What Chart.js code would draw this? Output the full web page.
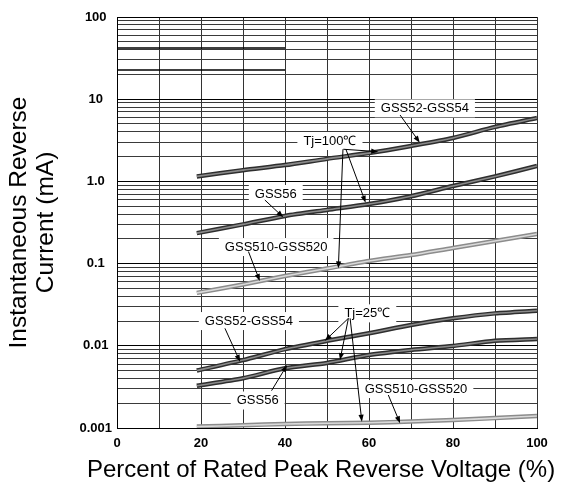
<!DOCTYPE html>
<html>
<head>
<meta charset="utf-8">
<script src="https://cdn.jsdelivr.net/npm/chart.js@4"></script>
<style>
  html, body { margin: 0; padding: 0; background: #fff; }
  canvas { display: block; }
</style>
</head>
<body>
<canvas id="chart" width="562" height="488"></canvas>
<script>
const FONT = '"Liberation Sans", Arial, sans-serif';

// percent of rated peak reverse voltage
const voltagePct = [19, 30, 40, 50, 60, 70, 80, 90, 100];

// Tj = 100 C  (mA)
const hotGss52to54 = [1.15, 1.37, 1.58, 1.88, 2.21, 2.7, 3.37, 4.6, 5.9];
const hotGss56 = [0.235, 0.30, 0.38, 0.45, 0.53, 0.66, 0.88, 1.15, 1.54];
const hotGss510to520 = [0.044, 0.0557, 0.0706, 0.087, 0.1076, 0.127, 0.155, 0.188, 0.229];

// Tj = 25 C  (mA)
const coldGss52to54 = [0.0050, 0.0067, 0.0091, 0.0115, 0.0142, 0.0179, 0.0216, 0.0248, 0.0267];
const coldGss56 = [0.00327, 0.00403, 0.00532, 0.00618, 0.00773, 0.0089, 0.00995, 0.0115, 0.0121];
const coldGss510to520 = [0.00104, 0.00108, 0.00112, 0.00114, 0.00116, 0.0012, 0.00125, 0.00132, 0.0014];

// two stray black rules in the top decade of the scanned sheet
const strayRulePct = [0, 40];
const strayRuleA = [42, 42];
const strayRuleB = [22.6, 22.6];

const yMajorValues = [0.001, 0.01, 0.1, 1, 10, 100];
const yMajorLabels = ["0.001", "0.01", "0.1", "1.0", "10", "100"];
const xTickLabels = ["0", "20", "40", "60", "80", "100"];
const xAxisTitle = "Percent of Rated Peak Reverse Voltage (%)";
const yAxisTitle = ["Instantaneous Reverse", "Current (mA)"];

// text notes: [text, x %, y mA]
const notes = [
  ["GSS52-GSS54", 73.3, 7.74],
  ["Tj=100\u2103", 50.7, 3.10],
  ["GSS56", 37.8, 0.703],
  ["GSS510-GSS520", 37.9, 0.159],
  ["GSS52-GSS54", 31.4, 0.0200],
  ["Tj=25\u2103", 59.6, 0.0248],
  ["GSS56", 33.5, 0.00216],
  ["GSS510-GSS520", 71.2, 0.00298],
];

// arrows: [from x, from y, to x, to y]
const arrows = [
  [67.4, 6.42, 72.1, 2.96],
  [53.9, 2.46, 62.2, 2.30],
  [54.5, 2.46, 59.2, 0.551],
  [53.8, 2.46, 52.7, 0.0877],
  [35.2, 0.594, 39.6, 0.366],
  [31.3, 0.140, 34.0, 0.0614],
  [25.7, 0.0163, 29.3, 0.00641],
  [55.1, 0.0216, 49.5, 0.01153],
  [55.1, 0.0216, 53.1, 0.00671],
  [55.5, 0.0216, 58.3, 0.001194],
  [36.8, 0.002844, 40.5, 0.00583],
  [64.6, 0.00252, 67.4, 0.00114],
];

const yGridValues = [];
yMajorValues.forEach((v, i) => {
  yGridValues.push(v);
  if (i < yMajorValues.length - 1) {
    for (let m = 2; m <= 9; m++) yGridValues.push(m * v);
  }
});

function points(xs, ys) {
  return ys.map((v, i) => ({ x: xs[i], y: v }));
}

// each curve is a dark outline with a lighter core
// (chart.js paints the last dataset first, so the core goes first)
function curve(ys, dark) {
  return [
    {
      data: points(voltagePct, ys),
      borderColor: dark ? "#8a8a8a" : "#dadada",
      borderWidth: 1.6,
      pointRadius: 0,
      tension: 0.25,
    },
    {
      data: points(voltagePct, ys),
      borderColor: dark ? "#2e2e2e" : "#8c8c8c",
      borderWidth: 4.5,
      pointRadius: 0,
      tension: 0.25,
    },
  ];
}

function rule(ys) {
  return {
    data: points(strayRulePct, ys),
    borderColor: "#000",
    borderWidth: 1.5,
    pointRadius: 0,
    tension: 0,
  };
}

const notesPlugin = {
  id: "notes",
  afterDatasetsDraw(chart) {
    const { ctx, scales } = chart;
    const sx = scales.x, sy = scales.y;
    ctx.save();
    ctx.font = "13px " + FONT;
    ctx.textAlign = "center";
    ctx.textBaseline = "middle";
    notes.forEach(([text, xv, yv]) => {
      const px = sx.getPixelForValue(xv);
      const py = sy.getPixelForValue(yv);
      const w = ctx.measureText(text).width + 12;
      ctx.fillStyle = "#fff";
      ctx.fillRect(px - w / 2, py - 9, w, 18);
      ctx.fillStyle = "#000";
      ctx.fillText(text, px, py);
    });
    ctx.strokeStyle = "#000";
    ctx.fillStyle = "#000";
    ctx.lineWidth = 1;
    arrows.forEach(([x1, y1, x2, y2]) => {
      const ax = sx.getPixelForValue(x1), ay = sy.getPixelForValue(y1);
      const bx = sx.getPixelForValue(x2), by = sy.getPixelForValue(y2);
      const ang = Math.atan2(by - ay, bx - ax);
      const len = 7, half = 2.6;
      ctx.beginPath();
      ctx.moveTo(ax, ay);
      ctx.lineTo(bx - Math.cos(ang) * len * 0.8, by - Math.sin(ang) * len * 0.8);
      ctx.stroke();
      ctx.beginPath();
      ctx.moveTo(bx, by);
      ctx.lineTo(bx - Math.cos(ang) * len - Math.sin(ang) * half, by - Math.sin(ang) * len + Math.cos(ang) * half);
      ctx.lineTo(bx - Math.cos(ang) * len + Math.sin(ang) * half, by - Math.sin(ang) * len - Math.cos(ang) * half);
      ctx.closePath();
      ctx.fill();
    });
    ctx.restore();
  },
  // the axis title is wider than the plot, so chart.js would squeeze it
  afterDraw(chart) {
    const { ctx, chartArea } = chart;
    ctx.save();
    ctx.font = "24px " + FONT;
    ctx.fillStyle = "#000";
    ctx.textAlign = "center";
    ctx.textBaseline = "middle";
    ctx.fillText(xAxisTitle, (chartArea.left + chartArea.right) / 2 - 6, chartArea.bottom + 42);
    ctx.restore();
  },
};

new Chart(document.getElementById("chart").getContext("2d"), {
  type: "line",
  data: {
    datasets: [
      rule(strayRuleA),
      rule(strayRuleB),
      ...curve(hotGss52to54, true),
      ...curve(hotGss56, true),
      ...curve(hotGss510to520, false),
      ...curve(coldGss52to54, true),
      ...curve(coldGss56, true),
      ...curve(coldGss510to520, false),
    ],
  },
  options: {
    responsive: false,
    devicePixelRatio: 1,
    animation: false,
    layout: { padding: { top: 17, right: 25, left: 0, bottom: 0 } },
    plugins: { legend: { display: false }, tooltip: { enabled: false } },
    scales: {
      x: {
        type: "linear",
        min: 0,
        max: 100,
        afterFit: (scale) => { scale.height = 60; },
        grid: { color: "#333", lineWidth: 1, drawTicks: false },
        border: { color: "#000", width: 1 },
        ticks: {
          stepSize: 10,
          padding: 8,
          color: "#000",
          font: { family: FONT, size: 13, weight: "bold" },
          callback: (v) => (v % 20 === 0 ? xTickLabels[v / 20] : ""),
        },
        title: { display: false },
      },
      y: {
        type: "logarithmic",
        min: 0.001,
        max: 100,
        afterFit: (scale) => { scale.width = 117; },
        afterBuildTicks: (scale) => {
          scale.ticks = yGridValues.map((v) => ({ value: v }));
        },
        grid: {
          drawTicks: false,
          lineWidth: 1,
          color: (c) => {
            const v = c.tick ? c.tick.value : 0;
            return yMajorValues.some((m) => Math.abs(m - v) / m < 1e-6) ? "#000" : "#3a3a3a";
          },
        },
        border: { color: "#000", width: 1 },
        ticks: {
          autoSkip: false,
          padding: 5,
          crossAlign: "center",
          color: "#000",
          font: { family: FONT, size: 13, weight: "bold" },
          callback: (v) => {
            const i = yMajorValues.findIndex((m) => Math.abs(m - v) / m < 1e-6);
            return i >= 0 ? yMajorLabels[i] : "";
          },
        },
        title: {
          display: true,
          text: yAxisTitle,
          color: "#000",
          font: { family: FONT, size: 24.5, lineHeight: 1.1 },
          padding: { top: 6, bottom: 0 },
        },
      },
    },
  },
  plugins: [notesPlugin],
});
</script>
</body>
</html>
